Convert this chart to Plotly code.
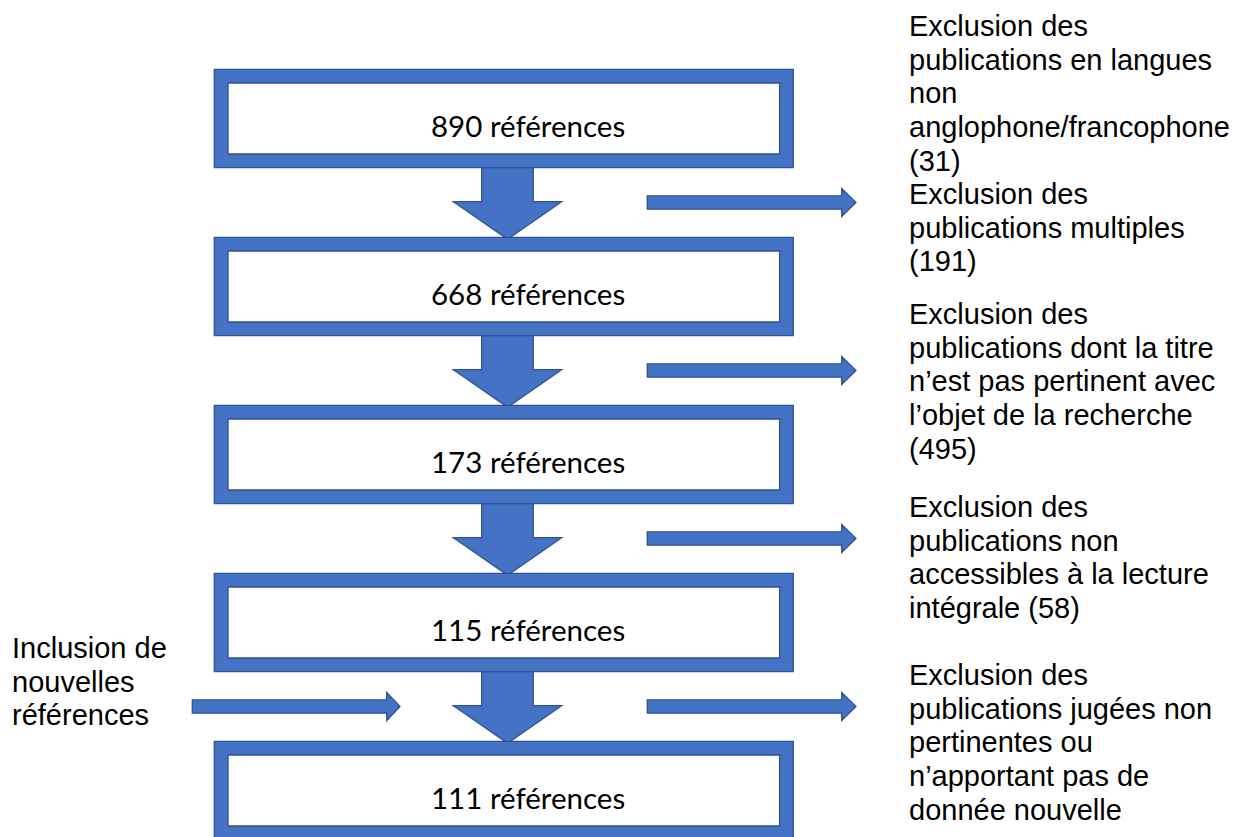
import plotly.graph_objects as go

# ---------------- data ----------------
box_counts = [890, 668, 173, 115, 111]
box_labels = [f"{n} références" for n in box_counts]

exclusion_blocks = [
    ["Exclusion des", "publications en langues", "non", "anglophone/francophone", "(31)"],
    ["Exclusion des", "publications multiples", "(191)"],
    ["Exclusion des", "publications dont la titre", "n’est pas pertinent avec",
     "l’objet de la recherche", "(495)"],
    ["Exclusion des", "publications non", "accessibles à la lecture", "intégrale (58)"],
    ["Exclusion des", "publications jugées non", "pertinentes ou",
     "n’apportant pas de", "donnée nouvelle"],
]
inclusion_block = ["Inclusion de", "nouvelles", "références"]

# ---------------- layout constants (pixels) ----------------
W, H = 1244, 837
BLUE = "#4472C4"
EDGE = "#2F528F"

BOX_X0, BOX_X1 = 214.3, 793.3
BORDER = 13.7
BOX_TOP0 = 69.3
BOX_H = 98.4
BOX_STEP = 168.0

DOWN_CX = 507.5
SHAFT_HALF = 25.8
HEAD_HALF = 54.2
HEAD_LEN = 37.6

R_X0, R_HEAD_X, R_TIP_X = 647.3, 841.7, 856.0
R_SHAFT_HALF = 6.7
R_HEAD_HALF = 14.0

INC_X0, INC_HEAD_X, INC_TIP_X = 192.3, 386.7, 400.0

TEXT_X = 906.5
LEFT_TEXT_X = 9.5
LINE_STEP = 33.7
block_starts = [26, 194, 314, 507, 675]
inclusion_start = 648

LABEL_X = 429.0
LABEL_DY = 6.5

shapes = []
annotations = []


def path_shape(pts):
    d = "M " + " L ".join(f"{x:.2f},{y:.2f}" for x, y in pts) + " Z"
    return dict(type="path", path=d, xref="x", yref="y",
                fillcolor=BLUE, line=dict(color=EDGE, width=1.3), layer="above")


def right_arrow(x0, xh, xt, cy):
    return path_shape([
        (x0, cy - R_SHAFT_HALF), (xh, cy - R_SHAFT_HALF), (xh, cy - R_HEAD_HALF),
        (xt, cy), (xh, cy + R_HEAD_HALF), (xh, cy + R_SHAFT_HALF), (x0, cy + R_SHAFT_HALF)
    ])


n_boxes = len(box_counts)
# down arrows and side arrows in the gaps
for i in range(n_boxes - 1):
    bottom = BOX_TOP0 + i * BOX_STEP + BOX_H
    next_top = BOX_TOP0 + (i + 1) * BOX_STEP
    tip = next_top + 2.0
    head_y = tip - HEAD_LEN
    shapes.append(path_shape([
        (DOWN_CX - SHAFT_HALF, bottom - 2), (DOWN_CX + SHAFT_HALF, bottom - 2),
        (DOWN_CX + SHAFT_HALF, head_y), (DOWN_CX + HEAD_HALF, head_y),
        (DOWN_CX, tip), (DOWN_CX - HEAD_HALF, head_y), (DOWN_CX - SHAFT_HALF, head_y)
    ]))
    cy = (bottom + next_top) / 2
    shapes.append(right_arrow(R_X0, R_HEAD_X, R_TIP_X, cy))
    if i == n_boxes - 2:
        shapes.append(right_arrow(INC_X0, INC_HEAD_X, INC_TIP_X, cy))

# boxes
for i, lab in enumerate(box_labels):
    top = BOX_TOP0 + i * BOX_STEP
    bot = top + BOX_H
    shapes.append(dict(type="rect", xref="x", yref="y", x0=BOX_X0, x1=BOX_X1, y0=top, y1=bot,
                       fillcolor=BLUE, line=dict(color=EDGE, width=1.3), layer="above"))
    shapes.append(dict(type="rect", xref="x", yref="y", x0=BOX_X0 + BORDER, x1=BOX_X1 - BORDER,
                       y0=top + BORDER, y1=bot - BORDER,
                       fillcolor="white", line=dict(color=EDGE, width=1.3), layer="above"))
    annotations.append(dict(x=LABEL_X, y=(top + bot) / 2 + LABEL_DY, xref="x", yref="y",
                            text=lab, showarrow=False, xanchor="left", yanchor="middle",
                            font=dict(family="Lato", size=29.5, color="black")))

side_font = dict(family="Liberation Sans, Arial", size=29, color="black")
for start, lines in zip(block_starts, exclusion_blocks):
    for j, line in enumerate(lines):
        annotations.append(dict(x=TEXT_X, y=start + j * LINE_STEP, xref="x", yref="y",
                                text=line, showarrow=False, xanchor="left", yanchor="middle",
                                font=side_font))
for j, line in enumerate(inclusion_block):
    annotations.append(dict(x=LEFT_TEXT_X, y=inclusion_start + j * LINE_STEP, xref="x", yref="y",
                            text=line, showarrow=False, xanchor="left", yanchor="middle",
                            font=side_font))

fig = go.Figure()
fig.add_trace(go.Scatter(x=[0, W], y=[0, H], mode="markers", marker=dict(opacity=0),
                         hoverinfo="skip", showlegend=False))
fig.update_layout(
    width=W, height=H, margin=dict(l=0, r=0, t=0, b=0),
    paper_bgcolor="white", plot_bgcolor="white",
    xaxis=dict(range=[0, W], visible=False, fixedrange=True),
    yaxis=dict(range=[H, 0], visible=False, fixedrange=True),
    shapes=shapes, annotations=annotations, showlegend=False,
)
fig.write_html("out.html", config={"displayModeBar": False},
               post_script="document.body.style.margin='0';document.body.style.overflow='hidden';")
